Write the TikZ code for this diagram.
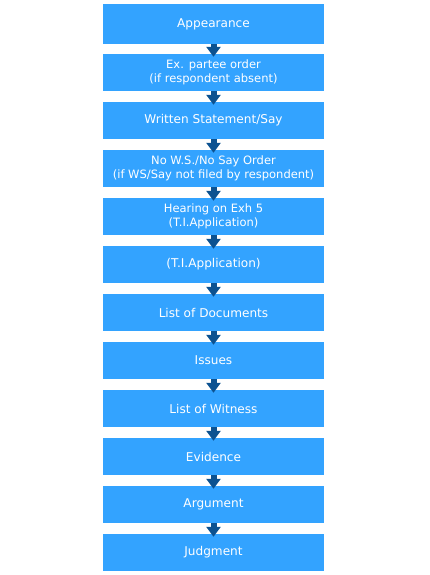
\documentclass[tikz,border=0pt]{standalone}
\usepackage{fontspec}
\setmainfont{DejaVu Sans}
\usetikzlibrary{arrows.meta}
\definecolor{boxblue}{RGB}{51,163,255}
\definecolor{arrowblue}{RGB}{12,82,145}
\begin{document}
\begin{tikzpicture}[x=1pt,y=-1pt,
  stepbox/.style={fill=boxblue, draw=none, minimum width=221pt, minimum height=37pt,
    inner sep=0pt, text=white, align=center, font=\fontsize{12.1}{14}\selectfont},
  twoline/.style={font=\fontsize{11.5}{14.5}\selectfont},
  flow/.style={draw=arrowblue, line width=6pt, -{Triangle[width=14pt,length=10pt]}, shorten >=-3pt}]
\useasboundingbox (0,0) rectangle (430,575);
\node[stepbox, minimum height=40pt] (b0) at (213.5,24) {Appearance};
\node[stepbox, twoline] (b1) at (213.5,72.5) {Ex. partee order\\(if respondent absent)};
\node[stepbox] (b2) at (213.5,120.5) {Written Statement/Say};
\node[stepbox, twoline] (b3) at (213.5,168.5) {No W.S./No Say Order\\(if WS/Say not filed by respondent)};
\node[stepbox, twoline] (b4) at (213.5,216.5) {Hearing on Exh 5\\(T.I.Application)};
\node[stepbox] (b5) at (213.5,264.5) {(T.I.Application)};
\node[stepbox] (b6) at (213.5,312.5) {List of Documents};
\node[stepbox] (b7) at (213.5,360.5) {Issues};
\node[stepbox] (b8) at (213.5,408.5) {List of Witness};
\node[stepbox] (b9) at (213.5,456.5) {Evidence};
\node[stepbox] (b10) at (213.5,504.5) {Argument};
\node[stepbox] (b11) at (213.5,552.5) {Judgment};
\foreach \a/\b in {b0/b1,b1/b2,b2/b3,b3/b4,b4/b5,b5/b6,b6/b7,b7/b8,b8/b9,b9/b10,b10/b11}
  \draw[flow] (\a.south) -- (\b.north);
\end{tikzpicture}
\end{document}
